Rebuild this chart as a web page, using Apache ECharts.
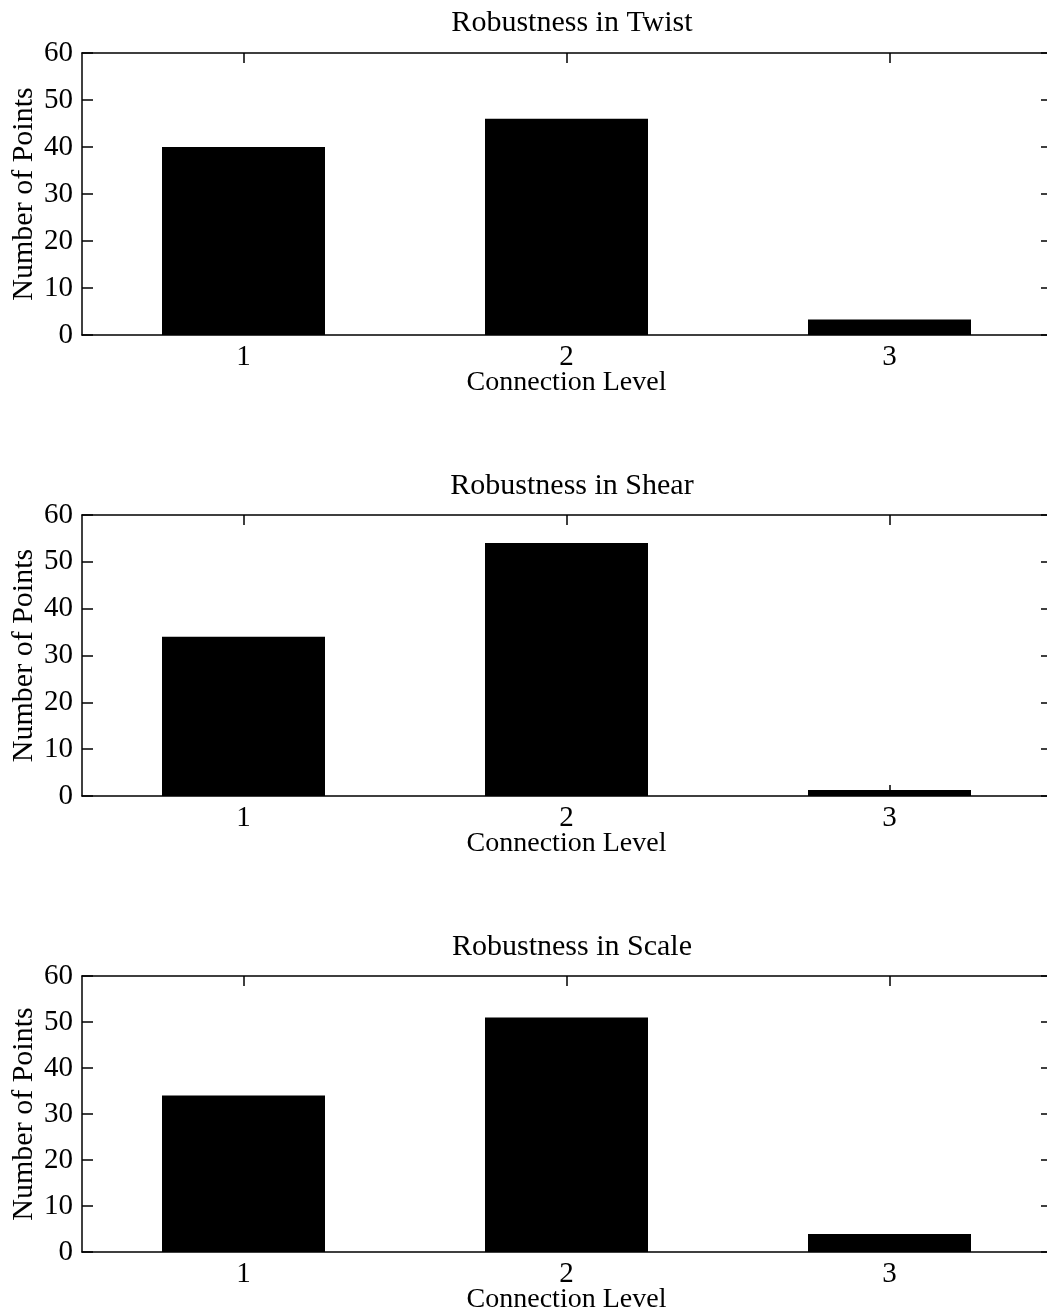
<!DOCTYPE html>
<html>
<head>
<meta charset="utf-8">
<script src="https://cdn.jsdelivr.net/npm/echarts@6/dist/echarts.min.js"></script>
<style>
html,body{margin:0;padding:0;background:#fff;}
#chart{width:1047px;height:1315px;}
</style>
</head>
<body>
<div id="chart"></div>
<script>
const categories = ['1', '2', '3'];
const panelTitles = ['Robustness in Twist', 'Robustness in Shear', 'Robustness in Scale'];
const twistValues = [40, 46, 3.3];
const shearValues = [34, 54, 1.3];
const scaleValues = [34, 51, 3.9];
const yTicks = [0, 10, 20, 30, 40, 50, 60];
const xAxisName = 'Connection Level';
const yAxisName = 'Number of Points';

const seriesValues = [twistValues, shearValues, scaleValues];
const FONT = '"Liberation Serif", "Times New Roman", serif';
const grids = [
  {left: 82, right: -4, top: 53, height: 282, outerBoundsMode: 'none', containLabel: false},
  {left: 82, right: -4, top: 515, height: 281, outerBoundsMode: 'none', containLabel: false},
  {left: 82, right: -4, top: 976, height: 276, outerBoundsMode: 'none', containLabel: false}
];
const titleTops = [3, 466, 927];

const chart = echarts.init(document.getElementById('chart'), null, {renderer: 'canvas'});
const option = {
  backgroundColor: '#fff',
  animation: false,
  title: panelTitles.map((t, i) => ({
    text: t, left: 567, top: titleTops[i], textAlign: 'center',
    textStyle: {fontFamily: FONT, fontSize: 30, fontWeight: 'normal', color: '#000'}
  })),
  grid: grids,
  xAxis: [],
  yAxis: [],
  series: []
};
const lineStyle = {color: '#000', width: 1.5};
grids.forEach((g, i) => {
  option.xAxis.push({
    type: 'category', gridIndex: i, data: categories, position: 'bottom',
    axisLine: {show: true, onZero: false, lineStyle},
    axisTick: {show: true, inside: true, length: 11, alignWithLabel: true, lineStyle},
    axisLabel: {show: true, fontFamily: FONT, fontSize: 29, color: '#000', margin: 8},
    name: xAxisName, nameLocation: 'middle', nameGap: 34, nameMoveOverlap: false,
    nameTextStyle: {fontFamily: FONT, fontSize: 28, color: '#000'}
  });
  option.xAxis.push({
    type: 'category', gridIndex: i, data: categories, position: 'top',
    axisLine: {show: true, onZero: false, lineStyle},
    axisTick: {show: true, inside: true, length: 10, alignWithLabel: true, lineStyle},
    axisLabel: {show: false}
  });
  option.yAxis.push({
    type: 'value', gridIndex: i, min: 0, max: 60, interval: 10, position: 'left',
    axisLine: {show: true, onZero: false, lineStyle},
    axisTick: {show: true, inside: true, length: 11, lineStyle},
    axisLabel: {show: true, fontFamily: FONT, fontSize: 29, color: '#000', margin: 9},
    splitLine: {show: false},
    name: yAxisName, nameLocation: 'middle', nameGap: 43, nameMoveOverlap: false,
    nameTextStyle: {fontFamily: FONT, fontSize: 30, color: '#000'}
  });
  option.yAxis.push({
    type: 'value', gridIndex: i, min: 0, max: 60, interval: 10, position: 'right',
    axisLine: {show: true, onZero: false, lineStyle},
    axisTick: {show: true, inside: true, length: 10, lineStyle},
    axisLabel: {show: false},
    splitLine: {show: false}
  });
  option.series.push({
    type: 'bar', xAxisIndex: 2 * i, yAxisIndex: 2 * i,
    data: seriesValues[i], barWidth: 163,
    itemStyle: {color: '#000'}
  });
});
chart.setOption(option);
</script>
</body>
</html>
